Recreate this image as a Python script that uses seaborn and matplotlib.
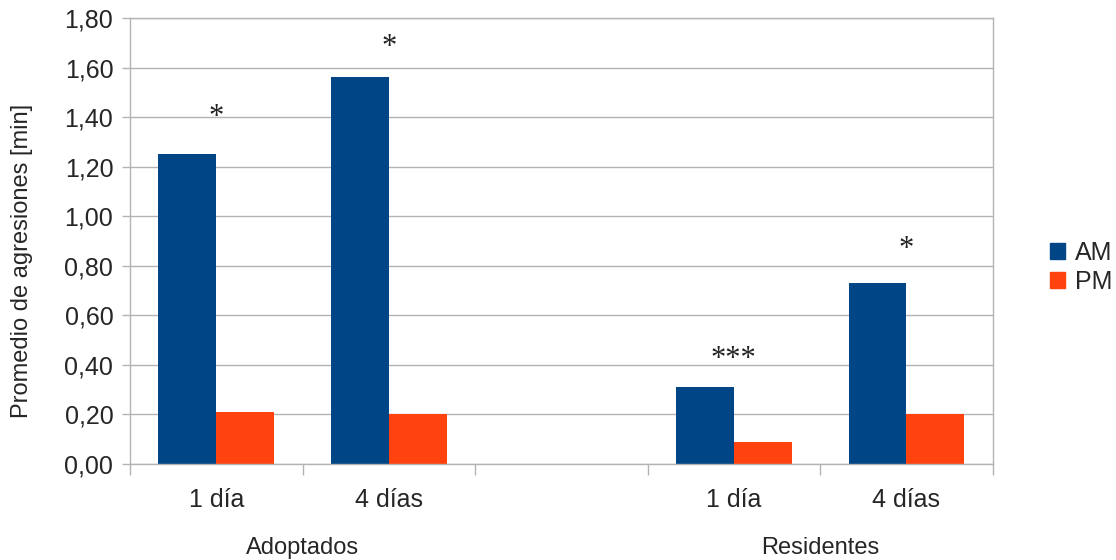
import numpy as np
import pandas as pd
import matplotlib
matplotlib.use("Agg")
import matplotlib.pyplot as plt
import matplotlib.transforms as mtransforms
from matplotlib.ticker import MultipleLocator, FixedLocator, FuncFormatter
import seaborn as sns

# Data
conditions = ["Adoptados 1 día", "Adoptados 4 días", "Residentes 1 día", "Residentes 4 días"]
tick_labels = ["1 día", "4 días", "", "1 día", "4 días"]
groups = ["Adoptados", "Residentes"]
am_values = [1.25, 1.56, 0.31, 0.73]
pm_values = [0.21, 0.20, 0.09, 0.20]
star_labels = ["*", "*", "***", "*"]
star_y = [1.40, 1.68, 0.42, 0.865]

gap = " "
order = conditions[:2] + [gap] + conditions[2:]

df = pd.DataFrame({
    "condicion": conditions * 2,
    "turno": ["AM"] * 4 + ["PM"] * 4,
    "valor": am_values + pm_values,
})

sns.set_theme(style="whitegrid")
plt.rcParams['font.family'] = ['Liberation Sans', 'DejaVu Sans']

fig = plt.figure(figsize=(11.16, 5.6), dpi=100)
ax = fig.add_axes([0.1165, 0.1714, 0.773, 0.7965])

sns.barplot(data=df, x="condicion", y="valor", hue="turno", order=order,
            hue_order=["AM", "PM"], palette={"AM": "#004586", "PM": "#FF420E"},
            saturation=1, width=0.67, errorbar=None, ax=ax, legend=False,
            linewidth=0)

ax.set_ylim(0, 1.8)
ax.set_xlim(-0.5, len(order) - 0.5)
ax.yaxis.set_major_locator(MultipleLocator(0.2))
ax.yaxis.set_major_formatter(FuncFormatter(lambda v, p: f"{v:.2f}".replace(".", ",")))
ax.set_ylabel("Promedio de agresiones [min]", fontsize=17)
ax.yaxis.set_label_coords(-0.112, 0.455)
ax.set_xlabel("")

# x ticks: long marks at slot boundaries, labels at slot centres
ax.xaxis.set_major_locator(FixedLocator(np.arange(-0.5, len(order), 1.0)))
ax.xaxis.set_major_formatter(FuncFormatter(lambda v, p: ""))
ax.xaxis.set_minor_locator(FixedLocator(np.arange(len(order))))
ax.set_xticklabels(tick_labels, minor=True)
ax.tick_params(axis="x", which="major", length=8, width=1, color="#b3b3b3", direction="out", bottom=True)
ax.tick_params(axis="x", which="minor", length=0, pad=17, labelsize=18)
ax.tick_params(axis="y", length=6, width=1, color="#b3b3b3", direction="out", left=True, labelsize=18, pad=6)

ax.grid(axis="y", color="#b3b3b3", linewidth=1)
ax.grid(axis="x", visible=False)
for side in ["left", "right", "top", "bottom"]:
    ax.spines[side].set_visible(True)
    ax.spines[side].set_color("#b3b3b3")
    ax.spines[side].set_linewidth(1)

# significance marks above each condition
positions = [order.index(c) for c in conditions]
for xpos, lab, yv in zip(positions, star_labels, star_y):
    ax.text(xpos, yv, lab, ha="center", va="center", fontsize=22,
            family=["Liberation Serif", "DejaVu Serif"], color="#222222")

# group labels below the category labels
trans = mtransforms.blended_transform_factory(ax.transData, ax.transAxes)
for gx, g in zip([0.5, 3.5], groups):
    ax.text(gx, -0.188, g, ha="center", va="center", fontsize=17, transform=trans)

handles = [plt.Rectangle((0, 0), 1, 1, color="#004586"),
           plt.Rectangle((0, 0), 1, 1, color="#FF420E")]
fig.legend(handles, ["AM", "PM"], loc="center left", bbox_to_anchor=(0.941, 0.523),
           frameon=False, fontsize=18, handlelength=0.6, handleheight=0.6,
           handletextpad=0.4, labelspacing=0.2, borderpad=0, borderaxespad=0)

fig.savefig("out.png", dpi=100)
